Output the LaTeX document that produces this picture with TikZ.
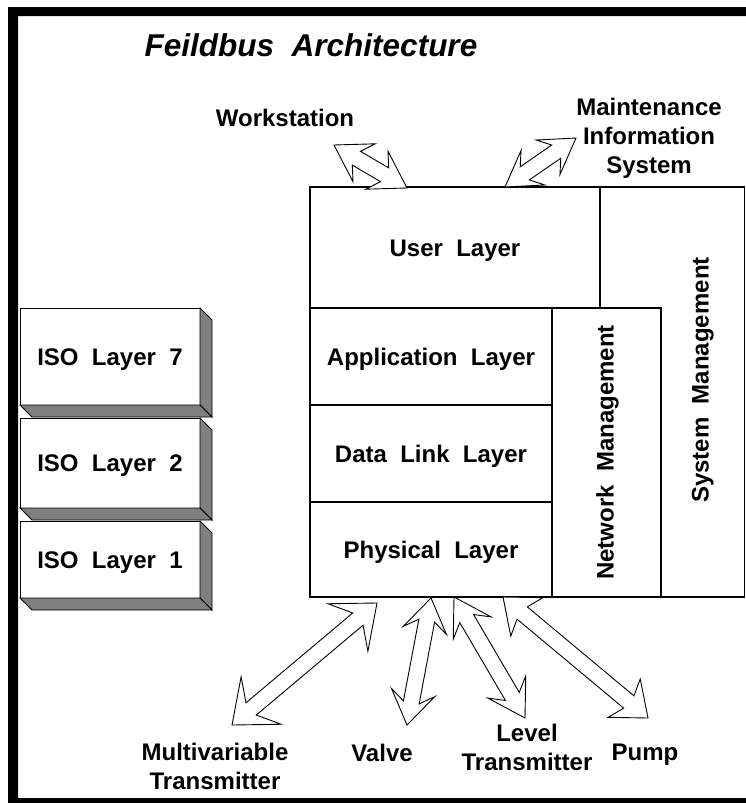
\documentclass[tikz,border=0pt]{standalone}
\usepackage{fontspec}
\setmainfont{Liberation Sans}
\usetikzlibrary{calc}
\definecolor{faceshade}{HTML}{808080}
\tikzset{
  box/.style={draw=black, line width=1.2pt, inner sep=0pt, outer sep=0pt},
  lbl/.style={font=\bfseries\fontsize{24}{29}\selectfont, inner sep=0pt, align=center},
  lbl1/.style={font=\bfseries\fontsize{24}{29}\selectfont, inner sep=0pt, text height=17.2pt, text depth=0pt},
  arrowline/.style={draw=black, fill=white, line width=0.9pt, line join=miter},
  shadeface/.style={fill=faceshade, draw=black, line width=0.9pt},
}
% hollow two-way arrow with notched heads:
% #1,#2 tips, #3 head length, #4 head half width, #5 notch depth, #6 shaft half width
\newcommand\twoway[6]{%
  \draw[arrowline] (#2)
    -- ($(#2)!#3pt!(#1)!#4pt!90:(#1)$)
    -- ($(#2)!#5pt!(#1)!#6pt!90:(#1)$)
    -- ($(#1)!#5pt!(#2)!#6pt!-90:(#2)$)
    -- ($(#1)!#3pt!(#2)!#4pt!-90:(#2)$)
    -- (#1)
    -- ($(#1)!#3pt!(#2)!#4pt!90:(#2)$)
    -- ($(#1)!#5pt!(#2)!#6pt!90:(#2)$)
    -- ($(#2)!#5pt!(#1)!#6pt!-90:(#1)$)
    -- ($(#2)!#3pt!(#1)!#4pt!-90:(#1)$)
    -- cycle;}
\begin{document}
\begin{tikzpicture}[x=1pt, y=-1pt]
\useasboundingbox (0,0) rectangle (746,803);
\fill[white] (0,0) rectangle (746,803);
% black frame
\fill[black, even odd rule] (8,7) rectangle (770,820) (18,16) rectangle (746,798);

% title and upper labels
\node[font=\bfseries\itshape\fontsize{31.5}{36}\selectfont, inner sep=0pt, text height=23pt, text depth=0pt] (title) at (311,45) {Feildbus\ \ Architecture};
\node[lbl1] (ws) at (285,118) {Workstation};
\node[lbl] (mis) at (649,138) {Maintenance\\Information\\System};

% Fieldbus layer stack
\node[box, lbl1, minimum width=290pt, minimum height=121pt] (user) at (455,247.5) {User\ \ Layer};
\node[box, minimum width=109pt, minimum height=289pt] (netm) at (606.5,452.5) {};
\node[lbl1, rotate=90] (netmtext) at (605,452.5) {Network\ \ Management};
\draw[black, line width=1.2pt] (user.north east) -- (744.5,187) -- (744.5,597) -- (netm.south east);
\node[lbl1, rotate=90] (sysm) at (700,380) {System\ \ Management};
\node[box, lbl1, minimum width=242pt, minimum height=97pt] (app) at (431,356.5) {Application\ \ Layer};
\node[box, lbl1, minimum width=242pt, minimum height=97pt] (dll) at (431,453.5) {Data\ \ Link\ \ Layer};
\node[box, lbl1, minimum width=242pt, minimum height=95pt] (phy) at (431,549.5) {Physical\ \ Layer};

% ISO reference blocks
\node[box, lbl1, line width=0.9pt, minimum width=180pt, minimum height=97pt] (iso7) at (110,356.5) {ISO\ \ Layer\ \ 7};
\node[box, lbl1, line width=0.9pt, minimum width=180pt, minimum height=90pt] (iso2) at (110,463) {ISO\ \ Layer\ \ 2};
\node[box, lbl1, line width=0.9pt, minimum width=180pt, minimum height=77pt] (iso1) at (110,559.5) {ISO\ \ Layer\ \ 1};
\foreach \b in {iso7,iso2,iso1} {
  \filldraw[shadeface] (\b.north east) -- ++(12,12) -- ($(\b.south east)+(12,12)$) -- (\b.south east) -- cycle;
  \filldraw[shadeface] (\b.south west) -- ++(12,12) -- ($(\b.south east)+(12,12)$) -- (\b.south east) -- cycle;
}

% field devices
\node[lbl] (mv) at (215,766) {Multivariable\\Transmitter};
\node[lbl1] (valve) at (382,753) {Valve};
\node[lbl] (lt) at (527,747) {Level\\Transmitter};
\node[lbl1] (pump) at (645,752) {Pump};

% arrow end points
\coordinate (ws-a) at (334,145);  \coordinate (ws-b) at (407,188);
\coordinate (mi-a) at (505,187);  \coordinate (mi-b) at (576,138);
\coordinate (mv-a) at (232,725);  \coordinate (mv-b) at (377,603);
\coordinate (va-a) at (407,725);  \coordinate (va-b) at (431,598);
\coordinate (lv-a) at (525,718);  \coordinate (lv-b) at (454,597);
\coordinate (pu-a) at (648,718);  \coordinate (pu-b) at (503,597);

\twoway{ws-a}{ws-b}{35}{22}{26}{8}
\twoway{mi-a}{mi-b}{34}{21}{24}{8}
\twoway{mv-a}{mv-b}{38}{31}{25}{8}
\twoway{va-a}{va-b}{33}{22}{23}{8}
\twoway{lv-a}{lv-b}{36}{22}{25}{8}
\twoway{pu-a}{pu-b}{31}{25}{25}{8}
\end{tikzpicture}
\end{document}
